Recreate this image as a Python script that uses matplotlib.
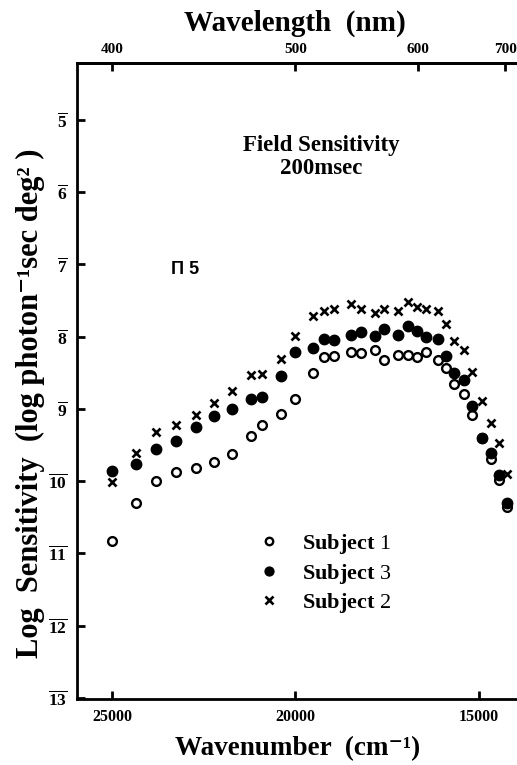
import matplotlib
matplotlib.use('Agg')
import matplotlib.pyplot as plt

plt.rcParams['font.family'] = ['Liberation Serif', 'DejaVu Serif']
plt.rcParams['mathtext.fontset'] = 'custom'
plt.rcParams['mathtext.rm'] = 'Liberation Serif'
plt.rcParams['mathtext.bf'] = 'Liberation Serif:bold'

# wavenumber (cm^-1) of each test light
wavenumber = [25000, 24340, 23790, 23250, 22720, 22220, 21730, 21220, 20900, 20400,
              20000, 19520, 19220, 18940, 18500, 18220, 17830, 17580, 17220, 16940,
              16700, 16440, 16130, 15900, 15680, 15410, 15180, 14920, 14680, 14460,
              14250]

# log sensitivity (log photon^-1 sec deg^2)
subject1 = [-10.83, -10.30, -10.00, -9.87, -9.82, -9.73, -9.63, -9.37, -9.22, -9.07,
            -8.86, -8.51, -8.29, -8.27, -8.22, -8.23, -8.18, -8.32, -8.26, -8.26,
            -8.28, -8.21, -8.33, -8.43, -8.66, -8.80, -9.09, -9.41, -9.69, -9.99,
            -10.36]
subject3 = [-9.86, -9.76, -9.55, -9.44, -9.25, -9.10, -9.00, -8.86, -8.83, -8.55,
            -8.21, -8.16, -8.03, -8.05, -7.98, -7.94, -7.99, -7.89, -7.98, -7.86,
            -7.92, -8.00, -8.04, -8.27, -8.51, -8.60, -8.96, -9.40, -9.61, -9.91,
            -10.30]
subject2 = [-10.02, -9.61, -9.32, -9.23, -9.08, -8.92, -8.76, -8.53, -8.52, -8.31,
            -7.99, -7.72, -7.65, -7.62, -7.55, -7.62, -7.67, -7.62, -7.65, -7.52,
            -7.59, -7.62, -7.64, -7.82, -8.06, -8.19, -8.49, -8.89, -9.19, -9.48,
            -9.90]

y_ticks = [-5, -6, -7, -8, -9, -10, -11, -12, -13]
y_ticklabels = [r'$\overline{\mathbf{%d}}$' % -v for v in y_ticks]
x_ticks = [25000, 20000, 15000]
nm_ticks = [400, 500, 600, 700]

fig = plt.figure(figsize=(5.17, 7.65), dpi=100)
ax = fig.add_axes([0.149, 0.086, 0.851, 0.832])

ax.plot(wavenumber, subject1, linestyle='none', marker='o', ms=6.3, mfc='white',
        mec='black', mew=1.7, label=r'Subject $\mathrm{1}$')
ax.plot(wavenumber, subject3, linestyle='none', marker='o', ms=7.5, mfc='black',
        mec='black', label=r'Subject $\mathrm{3}$')
ax.plot(wavenumber, subject2, linestyle='none', marker='x', ms=6.3, mec='black',
        mew=1.9, label=r'Subject $\mathrm{2}$')

ax.set_xlim(25950, 13965)
ax.set_ylim(-13.02, -4.21)
ax.set_xticks(x_ticks)
ax.set_xticklabels([str(v) for v in x_ticks], fontsize=11.5, fontweight='bold')
ax.set_yticks(y_ticks)
ax.set_yticklabels(y_ticklabels, fontsize=12.5)
ax.tick_params(direction='in', length=6, width=2, pad=7)

for side in ['left', 'bottom', 'top']:
    ax.spines[side].set_linewidth(2)
ax.spines['right'].set_visible(False)

top = ax.secondary_xaxis('top', functions=(lambda w: 1e7 / w, lambda l: 1e7 / l))
top.set_xticks(nm_ticks)
top.set_xticklabels([str(v) for v in nm_ticks], fontsize=11, fontweight='bold')
top.tick_params(direction='in', length=6, width=2, pad=5)
top.spines['top'].set_linewidth(2)

fig.text(0.570, 0.970, 'Wavelength  (nm)', ha='center', va='center',
         fontsize=21, fontweight='bold')
fig.text(0.575, 0.021, 'Wavenumber  (cm\u207b\u00b9)', ha='center', va='center',
         fontsize=19.5, fontweight='bold')
fig.text(0.058, 0.473, 'Log  Sensitivity  (log photon\u207b\u00b9sec deg\u00b2 )',
         rotation=90, ha='center', va='center', fontsize=22, fontweight='bold')

ax.text(0.555, 0.852, 'Field Sensitivity\n200msec', transform=ax.transAxes,
        ha='center', va='center', fontsize=16.5, fontweight='bold', linespacing=1.15)
ax.text(0.245, 0.675, 'Π 5', transform=ax.transAxes, ha='center', va='center',
        fontsize=13, fontweight='bold', family='Liberation Sans')

ax.legend(loc='upper left', bbox_to_anchor=(0.365, 0.294), frameon=False,
          prop={'size': 16, 'weight': 'bold'}, handletextpad=1.0, labelspacing=0.25,
          markerscale=0.85, handlelength=1.0)

fig.savefig('out.png', dpi=100, facecolor='white')
